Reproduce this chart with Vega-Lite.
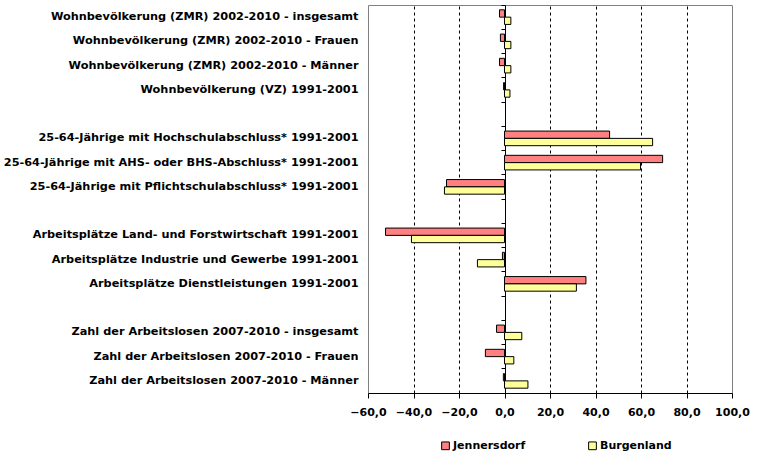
{
  "$schema": "https://vega.github.io/schema/vega-lite/v6.json",
  "autosize": "none",
  "padding": {"left": 368, "top": 5, "right": 33, "bottom": 69},
  "width": 364,
  "height": 388,
  "background": "white",
  "config": {
    "font": "DejaVu Sans",
    "view": {"stroke": "#808080", "strokeWidth": 1}
  },
  "data": {
    "values": [
      {"cat": "Wohnbevölkerung (ZMR) 2002-2010 - insgesamt", "series": "Jennersdorf", "value": -2.2},
      {"cat": "Wohnbevölkerung (ZMR) 2002-2010 - insgesamt", "series": "Burgenland", "value": 2.8},
      {"cat": "Wohnbevölkerung (ZMR) 2002-2010 - Frauen", "series": "Jennersdorf", "value": -1.8},
      {"cat": "Wohnbevölkerung (ZMR) 2002-2010 - Frauen", "series": "Burgenland", "value": 2.8},
      {"cat": "Wohnbevölkerung (ZMR) 2002-2010 - Männer", "series": "Jennersdorf", "value": -2.2},
      {"cat": "Wohnbevölkerung (ZMR) 2002-2010 - Männer", "series": "Burgenland", "value": 2.8},
      {"cat": "Wohnbevölkerung (VZ) 1991-2001", "series": "Jennersdorf", "value": -0.4},
      {"cat": "Wohnbevölkerung (VZ) 1991-2001", "series": "Burgenland", "value": 2.4},
      {"cat": "25-64-Jährige mit Hochschulabschluss* 1991-2001", "series": "Jennersdorf", "value": 46.2},
      {"cat": "25-64-Jährige mit Hochschulabschluss* 1991-2001", "series": "Burgenland", "value": 65.1},
      {"cat": "25-64-Jährige mit AHS- oder BHS-Abschluss* 1991-2001", "series": "Jennersdorf", "value": 69.5},
      {"cat": "25-64-Jährige mit AHS- oder BHS-Abschluss* 1991-2001", "series": "Burgenland", "value": 59.8},
      {"cat": "25-64-Jährige mit Pflichtschulabschluss* 1991-2001", "series": "Jennersdorf", "value": -25.5},
      {"cat": "25-64-Jährige mit Pflichtschulabschluss* 1991-2001", "series": "Burgenland", "value": -26.4},
      {"cat": "Arbeitsplätze Land- und Forstwirtschaft 1991-2001", "series": "Jennersdorf", "value": -52.3},
      {"cat": "Arbeitsplätze Land- und Forstwirtschaft 1991-2001", "series": "Burgenland", "value": -40.9},
      {"cat": "Arbeitsplätze Industrie und Gewerbe 1991-2001", "series": "Jennersdorf", "value": -0.9},
      {"cat": "Arbeitsplätze Industrie und Gewerbe 1991-2001", "series": "Burgenland", "value": -11.9},
      {"cat": "Arbeitsplätze Dienstleistungen 1991-2001", "series": "Jennersdorf", "value": 35.8},
      {"cat": "Arbeitsplätze Dienstleistungen 1991-2001", "series": "Burgenland", "value": 31.6},
      {"cat": "Zahl der Arbeitslosen 2007-2010 - insgesamt", "series": "Jennersdorf", "value": -3.5},
      {"cat": "Zahl der Arbeitslosen 2007-2010 - insgesamt", "series": "Burgenland", "value": 7.6},
      {"cat": "Zahl der Arbeitslosen 2007-2010 - Frauen", "series": "Jennersdorf", "value": -8.4},
      {"cat": "Zahl der Arbeitslosen 2007-2010 - Frauen", "series": "Burgenland", "value": 4.1},
      {"cat": "Zahl der Arbeitslosen 2007-2010 - Männer", "series": "Jennersdorf", "value": -0.5},
      {"cat": "Zahl der Arbeitslosen 2007-2010 - Männer", "series": "Burgenland", "value": 10.3}
    ]
  },
  "layer": [
    {
      "mark": {"type": "bar", "stroke": "black", "strokeWidth": 1},
      "encoding": {
        "y": {
          "field": "cat",
          "type": "nominal",
          "title": null,
          "scale": {
            "domain": [
              "Wohnbevölkerung (ZMR) 2002-2010 - insgesamt",
              "Wohnbevölkerung (ZMR) 2002-2010 - Frauen",
              "Wohnbevölkerung (ZMR) 2002-2010 - Männer",
              "Wohnbevölkerung (VZ) 1991-2001",
              " ",
              "25-64-Jährige mit Hochschulabschluss* 1991-2001",
              "25-64-Jährige mit AHS- oder BHS-Abschluss* 1991-2001",
              "25-64-Jährige mit Pflichtschulabschluss* 1991-2001",
              "  ",
              "Arbeitsplätze Land- und Forstwirtschaft 1991-2001",
              "Arbeitsplätze Industrie und Gewerbe 1991-2001",
              "Arbeitsplätze Dienstleistungen 1991-2001",
              "   ",
              "Zahl der Arbeitslosen 2007-2010 - insgesamt",
              "Zahl der Arbeitslosen 2007-2010 - Frauen",
              "Zahl der Arbeitslosen 2007-2010 - Männer"
            ],
            "paddingInner": 0,
            "paddingOuter": 0
          },
          "axis": {
            "orient": "left",
            "ticks": false,
            "domain": false,
            "labelPadding": 10,
            "labelLimit": 0,
            "labelFont": "DejaVu Sans",
            "labelFontWeight": "bold",
            "labelFontSize": 11.3,
            "labelColor": "black"
          }
        },
        "yOffset": {
          "field": "series",
          "type": "nominal",
          "sort": ["Jennersdorf", "Burgenland"],
          "scale": {"paddingInner": 0, "paddingOuter": 0.66}
        },
        "x": {
          "field": "value",
          "type": "quantitative",
          "title": null,
          "scale": {"domain": [-60, 100], "nice": false, "zero": false},
          "axis": {
            "values": [-60, -40, -20, 0, 20, 40, 60, 80, 100],
            "labelExpr": "replace(format(datum.value, '.1f'), '.', ',')",
            "labelOverlap": false,
            "labelFlush": false,
            "labelFont": "DejaVu Sans",
            "labelFontWeight": "bold",
            "labelFontSize": 11,
            "labelColor": "black",
            "labelPadding": 8,
            "domainColor": "black",
            "tickColor": "black",
            "tickSize": 5,
            "grid": true,
            "gridColor": {"condition": {"test": "datum.value == -60 || datum.value == 100 || datum.value == 0", "value": "transparent"}, "value": "black"},
            "gridDash": [3, 3],
            "gridWidth": 1
          }
        },
        "color": {
          "field": "series",
          "type": "nominal",
          "scale": {"domain": ["Jennersdorf", "Burgenland"], "range": ["#FF8080", "#FFFF99"]},
          "legend": {
            "orient": "none",
            "legendX": 72,
            "legendY": 435,
            "direction": "horizontal",
            "title": null,
            "symbolType": "square",
            "symbolSize": 60,
            "symbolStrokeColor": "black",
            "symbolStrokeWidth": 1,
            "symbolOpacity": 1,
            "labelFont": "DejaVu Sans",
            "labelFontWeight": "bold",
            "labelFontSize": 11,
            "labelColor": "black",
            "labelOffset": 2,
            "columnPadding": 60
          }
        }
      }
    },
    {
      "mark": {"type": "point", "opacity": 0},
      "encoding": {
        "y": {
          "field": "cat",
          "type": "nominal",
          "axis": {
            "orient": "left",
            "offset": -137,
            "labels": false,
            "title": null,
            "ticks": true,
            "bandPosition": 0,
            "tickSize": 4,
            "tickColor": "black",
            "domain": true,
            "domainColor": "black",
            "grid": false
          }
        },
        "x": {"field": "value", "type": "quantitative"}
      }
    }
  ],
  "resolve": {"axis": {"y": "independent"}}
}
